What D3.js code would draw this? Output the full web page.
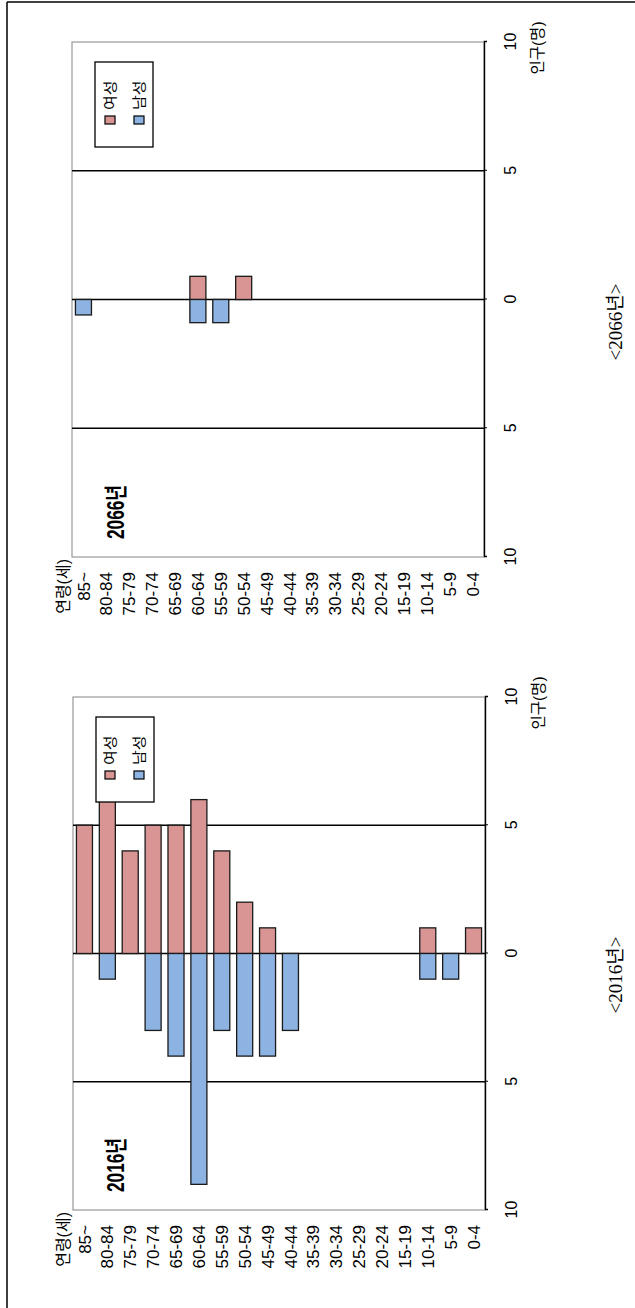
<!DOCTYPE html>
<html><head><meta charset="utf-8">
<script src="https://cdn.jsdelivr.net/npm/d3@7"></script>
<style>body{margin:0;background:#fff}svg{display:block}</style>
</head><body><svg id="c" width="635" height="1308"></svg>
<script>
const ages = ["85~","80-84","75-79","70-74","65-69","60-64","55-59","50-54","45-49","40-44","35-39","30-34","25-29","20-24","15-19","10-14","5-9","0-4"];
const female2016 = [5,6,4,5,5,6,4,2,1,0,0,0,0,0,0,1,0,1];
const male2016   = [0,1,0,3,4,9,3,4,4,3,0,0,0,0,0,1,1,0];
const female2066 = [0,0,0,0,0,0.9,0,0.9,0,0,0,0,0,0,0,0,0,0];
const male2066   = [0.6,0,0,0,0,0.9,0.9,0,0,0,0,0,0,0,0,0,0,0];
const tickValues = [-10,-5,0,5,10];
const tickLabels = ["10","5","0","5","10"];
const refLines = [-5,0,5];
const yearLabels = ["2016년","2066년"];
const captions = ["<2016년>","<2066년>"];
const legendLabels = ["여성","남성"];
const ageTitle = "연령(세)";
const valueTitle = "인구(명)";

const W = 1308, H = 635;
const FEM = "#d99594", MAL = "#8db3e2";
const sans = "'Liberation Sans', Arial, 'Noto Sans CJK KR', sans-serif";
const serif = "'Liberation Serif', 'Times New Roman', 'Noto Sans CJK KR', serif";

const svg = d3.select("#c");
const root = svg.append("g").attr("transform", `translate(0,${W}) rotate(-90)`);

// outer frame (top & right in original orientation)
root.append("line").attr("x1",0).attr("x2",1306).attr("y1",7).attr("y2",7).attr("stroke","#000").attr("stroke-width",1.5);
root.append("line").attr("x1",1306).attr("x2",1306).attr("y1",7).attr("y2",H).attr("stroke","#000").attr("stroke-width",1.5);

const panels = [
  {x0:98, x1:611, y0:73, y1:485, fem:female2016, mal:male2016, year:yearLabels[0], cap:captions[0]},
  {x0:751, x1:1266, y0:72, y1:484, fem:female2066, mal:male2066, year:yearLabels[1], cap:captions[1]}
];

panels.forEach(p => {
  const g = root.append("g");
  const x = d3.scaleLinear().domain([-10,10]).range([p.x0,p.x1]);
  const y = d3.scaleBand().domain(ages).range([p.y0,p.y1]).paddingInner(0.3).paddingOuter(0.15);

  // plot box (gray)
  g.append("rect").attr("x",p.x0).attr("y",p.y0).attr("width",p.x1-p.x0).attr("height",p.y1-p.y0)
    .attr("fill","none").attr("stroke","#a0a0a0").attr("stroke-width",1.3);

  // reference lines
  g.selectAll(".ref").data(refLines).join("line")
    .attr("x1",d=>x(d)).attr("x2",d=>x(d)).attr("y1",p.y0).attr("y2",p.y1)
    .attr("stroke","#000").attr("stroke-width",1.4);

  // bars
  const rows = ages.map((a,i)=>({a, f:p.fem[i], m:p.mal[i]}));
  g.selectAll(".fb").data(rows.filter(d=>d.f>0)).join("rect")
    .attr("x",x(0)).attr("y",d=>y(d.a)).attr("width",d=>x(d.f)-x(0)).attr("height",y.bandwidth())
    .attr("fill",FEM).attr("stroke","#1a1a1a").attr("stroke-width",1.3);
  g.selectAll(".mb").data(rows.filter(d=>d.m>0)).join("rect")
    .attr("x",d=>x(-d.m)).attr("y",d=>y(d.a)).attr("width",d=>x(0)-x(-d.m)).attr("height",y.bandwidth())
    .attr("fill",MAL).attr("stroke","#1a1a1a").attr("stroke-width",1.3);

  // value axis (bottom in original)
  const ax = g.append("g").attr("transform",`translate(0,${p.y1})`)
    .call(d3.axisBottom(x).tickValues(tickValues).tickSize(3).tickFormat((d,i)=>tickLabels[i]));
  ax.select(".domain").attr("stroke","#000").attr("stroke-width",1.4);
  ax.selectAll(".tick line").attr("stroke","#000");
  ax.selectAll(".tick text").attr("y",32).attr("dy",null).attr("font-family",sans).attr("font-size",16).attr("fill","#000");

  g.append("text").attr("x",x(10)-6).attr("y",p.y1+59).attr("text-anchor","middle")
    .attr("font-family",sans).attr("font-size",15.5).text(valueTitle);

  // age labels
  g.selectAll(".al").data(ages).join("text")
    .attr("x",p.x0-15).attr("y",d=>y(d)+y.bandwidth()/2).attr("dy","0.36em")
    .attr("text-anchor","end").attr("font-family",sans).attr("font-size",17).text(d=>d);
  g.append("text").attr("x",p.x0-2).attr("y",69).attr("text-anchor","end")
    .attr("font-family",sans).attr("font-size",16).text(ageTitle);

  // year label (condensed bold)
  g.append("text").attr("transform",`translate(${p.x0+18},124) scale(0.75,1)`)
    .attr("font-family",sans).attr("font-weight","bold").attr("font-size",23).text(p.year);

  // legend
  const lx0 = p.x1-105, lx1 = p.x1-20, ly0 = p.y0+23, ly1 = p.y0+81;
  g.append("rect").attr("x",lx0).attr("y",ly0).attr("width",lx1-lx0).attr("height",ly1-ly0)
    .attr("fill","#fff").attr("stroke","#000").attr("stroke-width",1.3);
  [[FEM,110],[MAL,139]].forEach(([c,cy],i)=>{
    g.append("rect").attr("x",p.x1-82).attr("y",cy-5).attr("width",8).attr("height",10)
      .attr("fill",c).attr("stroke","#000").attr("stroke-width",1.2);
    g.append("text").attr("transform",`translate(${p.x1-68},${cy+5}) scale(1.15,1)`)
      .attr("font-family",sans).attr("font-size",14).text(legendLabels[i]);
  });

  // caption
  g.append("text").attr("x",p.x0+235).attr("y",622).attr("text-anchor","middle")
    .attr("font-family",serif).attr("font-size",19).text(p.cap);
});
</script></body></html>
